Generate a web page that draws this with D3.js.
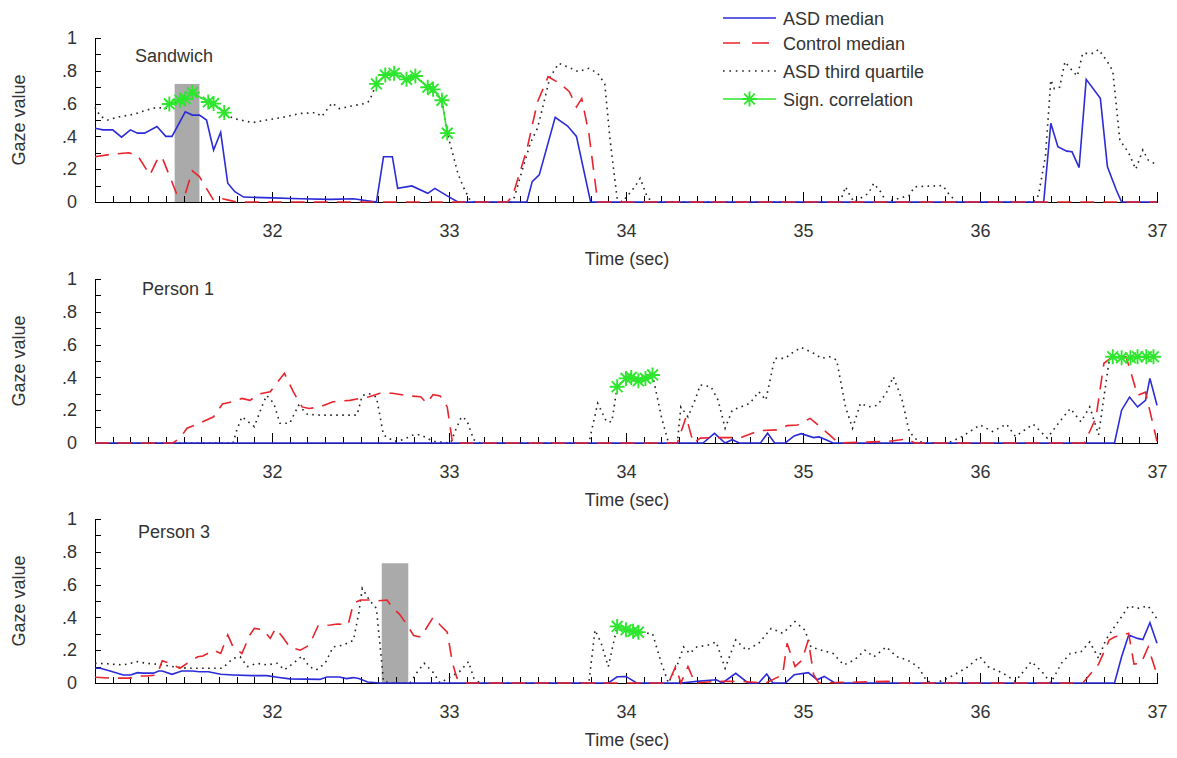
<!DOCTYPE html>
<html>
<head>
<meta charset="utf-8">
<title>Gaze value over time</title>
<script src="https://d3js.org/d3.v7.min.js"></script>
<style>
  body { margin: 0; background: #fff; }
  svg text { font-family: "Liberation Sans", Arial, sans-serif; font-size: 18px; fill: #333; }
  .axis path, .axis line { stroke: #000; stroke-width: 1; shape-rendering: crispEdges; }
  .axis text { font-size: 18px; fill: #333; }
</style>
</head>
<body>
<div id="chart"></div>
<script>
// time ticks and gaze ticks
const xMajor = [32, 33, 34, 35, 36, 37];
const yMajor = [0, 0.2, 0.4, 0.6, 0.8, 1];
const yTickLabels = ["0", ".2", ".4", ".6", ".8", "1"];
const legendLabels = ["ASD median", "Control median", "ASD third quartile", "Sign. correlation"];
const panelNames = ["Sandwich", "Person 1", "Person 3"];

// --- Sandwich --- [time (sec), gaze value]
const sandwichAsd = [[31.0,.45],[31.045,.44],[31.10,.44],[31.15,.395],[31.20,.44],[31.24,.42],[31.28,.42],[31.35,.46],[31.40,.40],[31.435,.40],[31.51,.55],[31.55,.53],[31.59,.53],[31.63,.50],[31.67,.317],[31.71,.425],[31.75,.115],[31.79,.063],[31.84,.03],[32.0,.025],[32.16,.02],[32.33,.016],[32.46,.02],[32.59,0],[32.63,.276],[32.68,.276],[32.71,.083],[32.79,.098],[32.88,.053],[32.92,.083],[32.99,.037],[33.05,0],[33.44,0],[33.47,.124],[33.51,.165],[33.60,.516],[33.67,.463],[33.72,.40],[33.80,0],[36.36,0],[36.40,.48],[36.44,.337],[36.49,.31],[36.52,.306],[36.56,.21],[36.60,.748],[36.68,.632],[36.72,.215],[36.77,.073],[36.80,0],[37.0,0]];
const sandwichControl = [[31.0,.276],[31.085,.29],[31.19,.30],[31.24,.285],[31.31,.165],[31.36,.276],[31.38,.27],[31.46,.053],[31.51,.05],[31.55,.19],[31.59,.155],[31.67,.01],[31.72,.02],[31.76,.01],[31.80,0],[33.33,0],[33.36,.04],[33.44,.32],[33.50,.61],[33.56,.764],[33.62,.727],[33.68,.673],[33.72,.58],[33.75,.63],[33.79,.42],[33.84,0],[37.0,0]];
const sandwichQ3 = [[31.0,.577],[31.03,.524],[31.07,.50],[31.14,.52],[31.22,.535],[31.29,.56],[31.35,.577],[31.40,.57],[31.42,.598],[31.48,.62],[31.51,.63],[31.55,.667],[31.64,.61],[31.67,.60],[31.73,.545],[31.78,.51],[31.89,.484],[31.97,.50],[32.06,.516],[32.16,.54],[32.25,.545],[32.28,.52],[32.34,.605],[32.38,.57],[32.45,.585],[32.52,.60],[32.55,.615],[32.59,.72],[32.64,.774],[32.69,.785],[32.76,.748],[32.81,.768],[32.88,.70],[32.91,.687],[32.96,.62],[32.99,.42],[33.02,.30],[33.05,.175],[33.08,.093],[33.12,.01],[33.15,0],[33.35,0],[33.37,.03],[33.41,.18],[33.46,.36],[33.50,.45],[33.53,.58],[33.57,.76],[33.62,.845],[33.68,.82],[33.73,.795],[33.79,.815],[33.84,.785],[33.88,.72],[33.91,.38],[33.95,.02],[33.98,0],[34.05,.093],[34.08,.145],[34.12,.03],[34.15,0],[35.21,0],[35.24,.093],[35.27,.03],[35.29,0],[35.37,.053],[35.40,.114],[35.44,.06],[35.47,0],[35.60,.04],[35.63,.093],[35.79,.10],[35.83,.04],[35.87,0],[36.30,0],[36.33,.04],[36.37,.28],[36.40,.744],[36.42,.69],[36.45,.70],[36.48,.855],[36.51,.815],[36.55,.768],[36.58,.906],[36.64,.906],[36.67,.93],[36.72,.855],[36.75,.80],[36.79,.378],[36.84,.30],[36.88,.20],[36.92,.317],[36.95,.256],[37.0,.226]];
const sandwichSign = [
  [[31.42,.598],[31.48,.62],[31.51,.63],[31.55,.667],[31.64,.61],[31.67,.60],[31.73,.545]],
  [[32.59,.72],[32.64,.774],[32.69,.785],[32.76,.748],[32.81,.768],[32.88,.70],[32.91,.687],[32.96,.62],[32.99,.42]]
];
const sandwichMarks = [[31.45, 31.59, .72]];

// --- Person 1 ---
const person1Asd = [[31.0,0],[34.435,0],[34.50,.059],[34.56,0],[34.60,.02],[34.64,0],[34.76,0],[34.80,.06],[34.84,0],[34.90,0],[34.95,.043],[34.99,.057],[35.06,.033],[35.09,.037],[35.13,.02],[35.17,0],[36.76,0],[36.80,.20],[36.845,.28],[36.89,.22],[36.935,.26],[36.96,.394],[37.0,.23]];
const person1Control = [[31.0,0],[31.44,0],[31.48,.03],[31.52,.09],[31.59,.12],[31.67,.16],[31.72,.238],[31.78,.252],[31.83,.272],[31.875,.26],[31.93,.30],[31.99,.313],[32.07,.425],[32.12,.313],[32.17,.22],[32.21,.21],[32.27,.22],[32.345,.252],[32.44,.26],[32.50,.272],[32.55,.282],[32.61,.303],[32.68,.303],[32.78,.287],[32.84,.282],[32.875,.242],[32.91,.295],[32.95,.287],[32.99,.22],[33.02,0],[34.29,0],[34.34,.16],[34.38,0],[34.42,.03],[34.50,.033],[34.65,.033],[34.75,.075],[34.85,.08],[34.91,.106],[34.97,.11],[35.04,.15],[35.09,.105],[35.15,.05],[35.20,0],[35.48,.01],[35.59,.025],[35.63,0],[36.59,0],[36.655,.153],[36.70,.486],[36.75,.526],[36.825,.526],[36.85,.44],[36.89,.29],[36.935,.31],[37.0,.01]];
const person1Q3 = [[31.0,0],[31.78,0],[31.80,.075],[31.83,.16],[31.90,.10],[31.95,.242],[31.97,.29],[32.01,.242],[32.045,.12],[32.10,.12],[32.15,.23],[32.20,.175],[32.27,.17],[32.38,.17],[32.48,.17],[32.51,.29],[32.55,.30],[32.59,.28],[32.63,.049],[32.69,.01],[32.74,.02],[32.80,.05],[32.84,.05],[32.91,.01],[33.01,0],[33.03,.06],[33.07,.16],[33.10,.14],[33.14,.02],[33.175,0],[33.79,0],[33.84,.242],[33.89,.13],[33.92,.13],[33.95,.343],[34.0,.394],[34.03,.40],[34.07,.38],[34.11,.394],[34.15,.415],[34.20,.16],[34.24,0],[34.29,0],[34.31,.22],[34.35,.16],[34.39,.262],[34.42,.354],[34.48,.343],[34.52,.262],[34.56,.09],[34.60,.20],[34.65,.22],[34.70,.242],[34.75,.313],[34.79,.262],[34.84,.516],[34.90,.516],[34.935,.547],[34.99,.583],[35.06,.547],[35.105,.516],[35.15,.526],[35.19,.506],[35.24,.22],[35.28,.09],[35.325,.242],[35.37,.22],[35.42,.23],[35.47,.303],[35.51,.404],[35.56,.262],[35.60,.069],[35.65,.01],[35.70,0],[35.82,0],[35.90,.04],[36.00,.11],[36.07,.07],[36.15,.115],[36.20,.04],[36.30,.115],[36.38,.03],[36.45,.13],[36.51,.21],[36.57,.13],[36.62,.22],[36.67,.05],[36.73,.506],[36.75,.526],[36.80,.52],[36.85,.52],[36.89,.526],[36.94,.526],[36.98,.526]];
const person1Sign = [
  [[33.95,.343],[34.0,.394],[34.03,.40],[34.07,.38],[34.11,.394],[34.15,.415]],
  [[36.75,.526],[36.80,.52],[36.85,.52],[36.89,.526],[36.94,.526],[36.98,.526]]
];
const person1Marks = [];

// --- Person 3 ---
const person3Asd = [[31.0,.09],[31.03,.09],[31.085,.073],[31.16,.049],[31.20,.049],[31.24,.063],[31.27,.06],[31.33,.06],[31.36,.073],[31.38,.073],[31.435,.053],[31.49,.073],[31.55,.073],[31.59,.069],[31.64,.069],[31.71,.053],[31.78,.049],[31.89,.045],[31.97,.045],[32.03,.035],[32.10,.025],[32.27,.022],[32.31,.037],[32.38,.037],[32.42,.027],[32.46,.033],[32.49,.027],[32.54,.006],[32.61,0],[33.90,0],[33.95,.038],[34.0,.04],[34.06,0],[34.31,0],[34.40,.01],[34.51,.02],[34.545,0],[34.62,.059],[34.69,0],[34.75,0],[34.795,.055],[34.83,0],[34.90,0],[34.95,.05],[35.03,.063],[35.08,.02],[35.12,.04],[35.18,0],[36.76,0],[36.80,.16],[36.84,.293],[36.89,.272],[36.92,.265],[36.96,.368],[37.0,.242]];
const person3Control = [[31.0,.035],[31.085,.03],[31.20,.03],[31.24,.043],[31.29,.043],[31.35,.049],[31.38,.136],[31.42,.12],[31.48,.09],[31.52,.12],[31.58,.16],[31.61,.165],[31.67,.20],[31.71,.18],[31.75,.293],[31.78,.22],[31.83,.18],[31.875,.293],[31.90,.333],[31.95,.325],[31.99,.272],[32.02,.333],[32.06,.28],[32.10,.22],[32.16,.20],[32.21,.23],[32.26,.348],[32.33,.354],[32.37,.36],[32.43,.354],[32.46,.486],[32.50,.506],[32.55,.506],[32.59,.50],[32.65,.506],[32.68,.46],[32.72,.42],[32.76,.36],[32.80,.29],[32.84,.28],[32.91,.40],[32.95,.354],[32.99,.31],[33.02,.12],[33.045,.03],[33.10,0],[34.24,0],[34.28,.10],[34.31,0],[34.35,.10],[34.39,0],[34.51,.01],[34.65,.01],[34.79,0],[34.885,.05],[34.91,.242],[34.955,.10],[34.995,.14],[35.03,.262],[35.06,.05],[35.09,0],[35.48,.01],[35.55,0],[36.58,0],[36.605,.03],[36.67,.115],[36.73,.262],[36.76,.28],[36.84,.303],[36.87,.115],[36.91,.12],[36.95,.22],[37.0,.05]];
const person3Q3 = [[31.0,.12],[31.07,.117],[31.16,.11],[31.24,.13],[31.29,.12],[31.37,.113],[31.44,.10],[31.52,.09],[31.59,.09],[31.67,.09],[31.72,.09],[31.78,.15],[31.82,.16],[31.86,.10],[31.915,.12],[31.97,.11],[32.03,.12],[32.07,.08],[32.12,.12],[32.17,.165],[32.21,.10],[32.25,.08],[32.30,.12],[32.345,.22],[32.40,.23],[32.46,.26],[32.49,.425],[32.51,.577],[32.55,.506],[32.59,.455],[32.63,.01],[32.67,0],[32.78,0],[32.82,.065],[32.86,.12],[32.91,.065],[32.95,0],[33.06,.07],[33.11,.13],[33.14,.03],[33.175,0],[33.79,0],[33.825,.323],[33.86,.242],[33.90,.10],[33.95,.345],[34.0,.325],[34.04,.315],[34.07,.31],[34.15,.30],[34.20,.12],[34.24,0],[34.29,.11],[34.325,.22],[34.36,.18],[34.40,.22],[34.46,.23],[34.51,.25],[34.56,.09],[34.62,.262],[34.68,.20],[34.75,.242],[34.82,.333],[34.885,.303],[34.955,.374],[35.01,.323],[35.045,.22],[35.105,.20],[35.17,.18],[35.23,.11],[35.29,.14],[35.35,.20],[35.40,.16],[35.47,.22],[35.53,.16],[35.59,.14],[35.65,.10],[35.70,.01],[35.75,0],[35.82,.03],[35.92,.09],[36.0,.16],[36.045,.10],[36.13,.06],[36.20,.01],[36.29,.13],[36.35,.07],[36.40,0],[36.46,.12],[36.51,.18],[36.57,.19],[36.62,.25],[36.67,.15],[36.71,.262],[36.76,.343],[36.80,.404],[36.84,.47],[36.89,.455],[36.95,.47],[37.0,.39]];
const person3Sign = [
  [[33.95,.345],[34.0,.325],[34.04,.315],[34.07,.31]]
];
const person3Marks = [[32.62, 32.77, .73]];

// layout
const W = 1177, H = 758;
const left = 95, right = 1157;
const panels = [
  { name: panelNames[0], top: 38, bottom: 202, labelX: 135, labelY: 62, asd: sandwichAsd, control: sandwichControl, q3: sandwichQ3, sign: sandwichSign, marks: sandwichMarks },
  { name: panelNames[1], top: 279, bottom: 443, labelX: 142, labelY: 295, asd: person1Asd, control: person1Control, q3: person1Q3, sign: person1Sign, marks: person1Marks },
  { name: panelNames[2], top: 519, bottom: 683, labelX: 138, labelY: 538, asd: person3Asd, control: person3Control, q3: person3Q3, sign: person3Sign, marks: person3Marks }
];

const colors = { asd: "#2b2bd8", control: "#e8242c", q3: "#222", sign: "#2ee62e", mark: "#aaaaaa" };

const svg = d3.select("#chart").append("svg")
  .attr("width", W).attr("height", H);

const x = d3.scaleLinear().domain([31, 37]).range([left, right]);
const minorX = d3.range(311, 371).filter(i => i % 10 !== 0).map(i => i / 10);
const allY = d3.range(0, 11).map(i => i / 10);

// asterisk marker like matlab '*'
function star(r) {
  const d = r * 0.72;
  return `M${-r},0L${r},0M0,${-r}L0,${r}M${-d},${-d}L${d},${d}M${-d},${d}L${d},${-d}`;
}

panels.forEach(p => {
  const y = d3.scaleLinear().domain([0, 1]).range([p.bottom, p.top]);
  const g = svg.append("g");

  // grey marker boxes
  g.selectAll("rect.mark").data(p.marks).enter().append("rect")
    .attr("class", "mark")
    .attr("x", d => x(d[0]))
    .attr("width", d => x(d[1]) - x(d[0]))
    .attr("y", d => y(d[2]))
    .attr("height", d => y(0) - y(d[2]))
    .attr("fill", colors.mark);

  // x axis: minor ticks then major ticks with labels
  g.append("g").attr("class", "axis")
    .attr("transform", `translate(0,${p.bottom})`)
    .call(d3.axisBottom(x).tickValues(minorX).tickSize(-6).tickSizeOuter(0).tickFormat(""));
  g.append("g").attr("class", "axis")
    .attr("transform", `translate(0,${p.bottom})`)
    .call(d3.axisBottom(x).tickValues(xMajor).tickSize(-10).tickSizeOuter(0).tickPadding(22).tickFormat(d3.format("d")));

  // y axis
  g.append("g").attr("class", "axis")
    .attr("transform", `translate(${left},0)`)
    .call(d3.axisLeft(y).tickValues(allY).tickSize(-6).tickSizeOuter(0).tickPadding(18)
      .tickFormat(d => {
        const i = yMajor.findIndex(v => Math.abs(v - d) < 1e-6);
        return i >= 0 ? yTickLabels[i] : "";
      }));

  g.selectAll(".axis .domain").attr("fill", "none");

  const line = d3.line().x(d => x(d[0])).y(d => y(d[1]));

  g.append("path").datum(p.q3).attr("d", line)
    .attr("fill", "none").attr("stroke", colors.q3).attr("stroke-width", 1.6)
    .attr("stroke-dasharray", "1.6,4.4");
  g.append("path").datum(p.asd).attr("d", line)
    .attr("fill", "none").attr("stroke", colors.asd).attr("stroke-width", 1.6);
  g.append("path").datum(p.control).attr("d", line)
    .attr("fill", "none").attr("stroke", colors.control).attr("stroke-width", 1.6)
    .attr("stroke-dasharray", "14,9");

  p.sign.forEach(seg => {
    g.append("path").datum(seg).attr("d", line)
      .attr("fill", "none").attr("stroke", colors.sign).attr("stroke-width", 1.6);
    g.selectAll(null).data(seg).enter().append("path")
      .attr("d", star(7.5))
      .attr("transform", d => `translate(${x(d[0])},${y(d[1])})`)
      .attr("fill", "none").attr("stroke", colors.sign).attr("stroke-width", 1.9);
  });

  // panel name
  g.append("text").attr("x", p.labelX).attr("y", p.labelY).text(p.name);

  // axis titles
  g.append("text")
    .attr("transform", `translate(25,${(p.top + p.bottom) / 2}) rotate(-90)`)
    .attr("text-anchor", "middle")
    .text("Gaze value");
  g.append("text")
    .attr("x", 627).attr("y", p.bottom + 63)
    .attr("text-anchor", "middle")
    .text("Time (sec)");
});

// legend
const legendY = [18, 43, 71, 99];
const lg = svg.append("g");
const styles = [
  { stroke: colors.asd, dash: null },
  { stroke: colors.control, dash: "17,12" },
  { stroke: colors.q3, dash: "1.6,4.8" },
  { stroke: colors.sign, dash: null }
];
legendLabels.forEach((lab, i) => {
  lg.append("line").attr("x1", 723).attr("x2", 776)
    .attr("y1", legendY[i]).attr("y2", legendY[i])
    .attr("stroke", styles[i].stroke).attr("stroke-width", 1.6)
    .attr("stroke-dasharray", styles[i].dash);
  if (i === 3) {
    lg.append("path").attr("d", star(7.5))
      .attr("transform", `translate(749.5,${legendY[i]})`)
      .attr("fill", "none").attr("stroke", colors.sign).attr("stroke-width", 1.9);
  }
  lg.append("text").attr("x", 783).attr("y", legendY[i] + 6.5).text(lab);
});
</script>
</body>
</html>
